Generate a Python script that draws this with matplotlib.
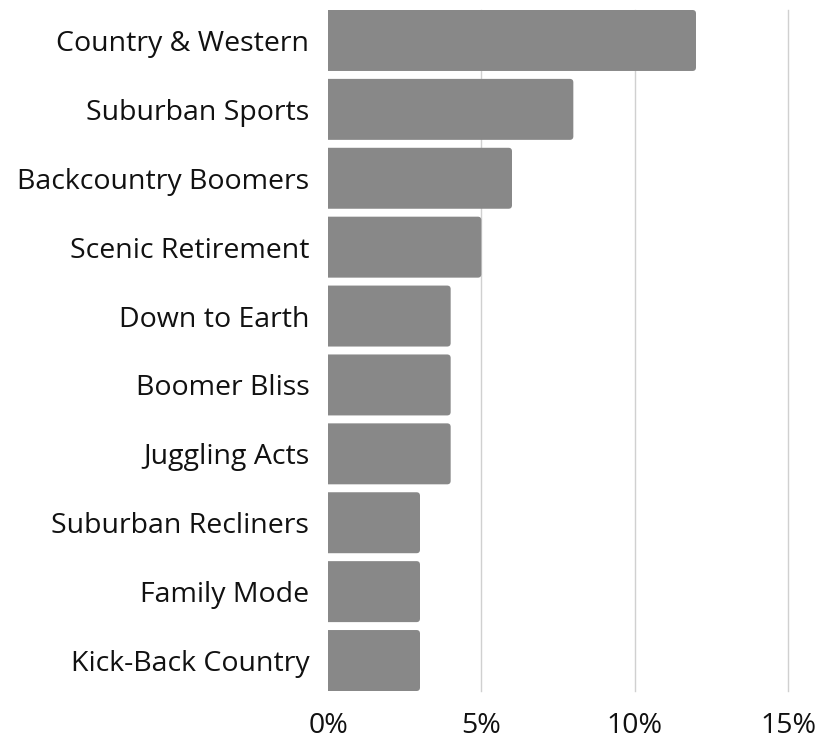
import matplotlib
matplotlib.use("Agg")
import matplotlib.pyplot as plt
from matplotlib.patches import FancyBboxPatch
from matplotlib.ticker import FuncFormatter

categories = ["Country & Western", "Suburban Sports", "Backcountry Boomers",
              "Scenic Retirement", "Down to Earth", "Boomer Bliss",
              "Juggling Acts", "Suburban Recliners", "Family Mode",
              "Kick-Back Country"]
values = [12, 8, 6, 5, 4, 4, 4, 3, 3, 3]
xticks = [0, 5, 10, 15]

plt.rcParams['font.family'] = ['Open Sans', 'DejaVu Sans']

W, H = 823, 741
fig = plt.figure(figsize=(W / 100, H / 100), dpi=100)
left, right, top, bottom = 328, 788, 10, 691
ax = fig.add_axes([left / W, 1 - bottom / H, (right - left) / W, (bottom - top) / H])

bar_h = 0.885
n = len(categories)
ax.set_xlim(0, 15)
ax.set_ylim(n - 1 + bar_h / 2, -bar_h / 2)

x_per_px = 15 / (right - left)
y_per_px = (n - 1 + bar_h) / (bottom - top)
aspect = y_per_px / x_per_px
r = 3.5 * x_per_px

ax.set_axisbelow(True)
ax.set_xticks(xticks)
ax.grid(axis='x', color='#d0d0d0', linewidth=1)
ax.grid(axis='y', visible=False)
for val, gl in zip(xticks, ax.get_xgridlines()):
    gl.set_clip_on(False)
    if val == 0:
        gl.set_visible(False)

for i, v in enumerate(values):
    p = FancyBboxPatch((-r * 3, i - bar_h / 2), v + r * 3, bar_h,
                       boxstyle=f"round,pad=0,rounding_size={r}",
                       mutation_aspect=aspect,
                       facecolor='#888888', edgecolor='none', zorder=2)
    ax.add_patch(p)

ax.set_yticks(range(n))
ax.set_yticklabels(categories)
ax.xaxis.set_major_formatter(FuncFormatter(lambda x, pos: f"{x:.0f}%"))
ax.tick_params(axis='both', length=0, labelsize=20.5, colors='#111111')
ax.tick_params(axis='y', pad=13.5)
ax.tick_params(axis='x', pad=15)
for s in ax.spines.values():
    s.set_visible(False)

fig.savefig("out.png", dpi=100)
